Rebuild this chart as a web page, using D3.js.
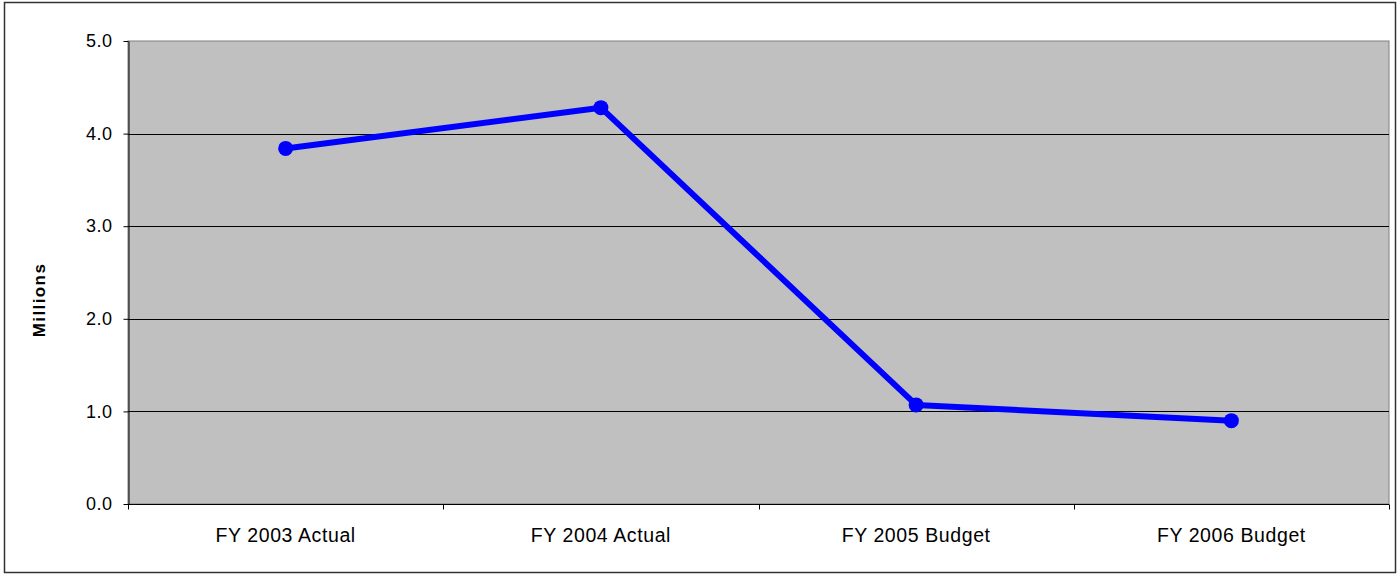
<!DOCTYPE html>
<html>
<head>
<meta charset="utf-8">
<script src="https://cdn.jsdelivr.net/npm/d3@7"></script>
<style>
  html, body { margin: 0; padding: 0; background: #fff; }
  svg { display: block; font-family: "Liberation Sans", Arial, sans-serif; }
</style>
</head>
<body>
<svg id="chart" width="1398" height="575"></svg>
<script>
// Fiscal-year totals, in millions
const categories = ["FY 2003 Actual", "FY 2004 Actual", "FY 2005 Budget", "FY 2006 Budget"];
const values = [3.84, 4.28, 1.07, 0.90];
const yTicks = [0, 1, 2, 3, 4, 5];

const svg = d3.select("#chart");
const W = 1398, H = 575;
const plot = { left: 128, right: 1389, top: 41, bottom: 504 };

// outer frame
svg.append("rect")
  .attr("x", 4.5).attr("y", 2.5)
  .attr("width", W - 7).attr("height", H - 5)
  .attr("fill", "#fff").attr("stroke", "#333").attr("stroke-width", 1.5);

const x = d3.scaleBand().domain(categories).range([plot.left, plot.right]);
const y = d3.scaleLinear().domain([0, 5]).range([plot.bottom, plot.top]);

// plot area
svg.append("rect")
  .attr("x", plot.left).attr("y", plot.top)
  .attr("width", plot.right - plot.left).attr("height", plot.bottom - plot.top)
  .attr("fill", "#c0c0c0").attr("stroke", "#808080").attr("stroke-width", 1);

// horizontal gridlines
svg.append("g").selectAll("line")
  .data(yTicks.filter(d => d > 0 && d < 5))
  .join("line")
  .attr("x1", plot.left).attr("x2", plot.right)
  .attr("y1", d => Math.round(y(d)) + 0.5).attr("y2", d => Math.round(y(d)) + 0.5)
  .attr("stroke", "#000").attr("stroke-width", 1);

// y axis
const yAxis = svg.append("g")
  .attr("transform", `translate(${plot.left + 0.5},0)`)
  .call(d3.axisLeft(y).tickValues(yTicks).tickFormat(d3.format(".1f")).tickSize(5).tickSizeOuter(0));
yAxis.select(".domain").attr("stroke", "#000");
yAxis.selectAll(".tick line").attr("stroke", "#000");
yAxis.selectAll(".tick text")
  .attr("x", -16)
  .attr("font-size", 18).attr("letter-spacing", 0.5).attr("fill", "#000")
  .attr("font-family", "\"Liberation Sans\", Arial, sans-serif");

// x axis with ticks on category boundaries
const xAxisG = svg.append("g").attr("transform", `translate(0,${plot.bottom + 0.5})`);
xAxisG.append("line")
  .attr("x1", plot.left).attr("x2", plot.right)
  .attr("stroke", "#000");
const boundaries = d3.range(categories.length + 1).map(i => plot.left + i * x.step());
xAxisG.selectAll("line.tk").data(boundaries).join("line")
  .attr("class", "tk")
  .attr("x1", d => Math.round(d) + 0.5).attr("x2", d => Math.round(d) + 0.5)
  .attr("y1", 0).attr("y2", 5)
  .attr("stroke", "#000");
xAxisG.selectAll("text").data(categories).join("text")
  .attr("x", d => x(d) + x.bandwidth() / 2)
  .attr("y", 37)
  .attr("text-anchor", "middle")
  .attr("font-size", 19.5).attr("letter-spacing", 0.6).attr("fill", "#000")
  .text(d => d);

// y axis title
svg.append("text")
  .attr("transform", "translate(45,300) rotate(-90)")
  .attr("text-anchor", "middle")
  .attr("font-size", 17).attr("letter-spacing", 1.4).attr("font-weight", "bold").attr("fill", "#000")
  .text("Millions");

// series line
const line = d3.line()
  .x((d, i) => x(categories[i]) + x.bandwidth() / 2)
  .y(d => y(d));
svg.append("path")
  .datum(values)
  .attr("d", line)
  .attr("fill", "none")
  .attr("stroke", "#0000ff")
  .attr("stroke-width", 6)
  .attr("stroke-linejoin", "round");

svg.append("g").selectAll("circle")
  .data(values)
  .join("circle")
  .attr("cx", (d, i) => x(categories[i]) + x.bandwidth() / 2)
  .attr("cy", d => y(d))
  .attr("r", 7.5)
  .attr("fill", "#0000ff");
</script>
</body>
</html>
